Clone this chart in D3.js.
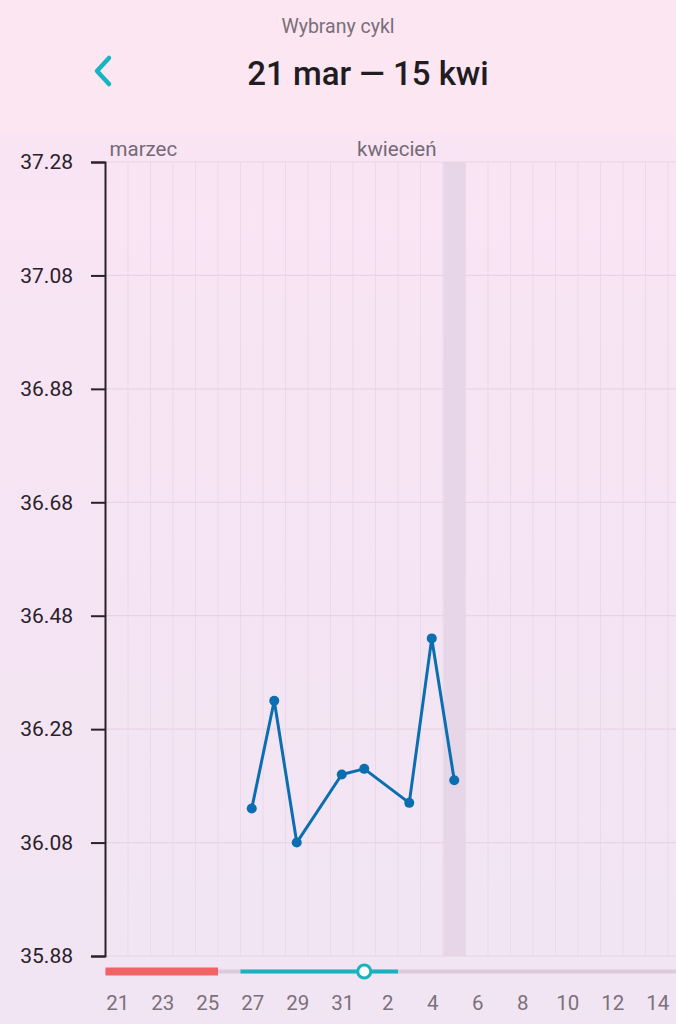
<!DOCTYPE html>
<html>
<head>
<meta charset="utf-8">
<script src="https://cdn.jsdelivr.net/npm/d3@7"></script>
<style>
  body { margin: 0; background: #f4e4f3; font-family: Roboto, "Noto Sans", sans-serif; }
  svg { display: block; }
</style>
</head>
<body>
<svg id="chart" width="676" height="1024"></svg>
<script>
// ---------- dane ----------
var cycleDays = ["03-21","03-22","03-23","03-24","03-25","03-26","03-27","03-28","03-29","03-30","03-31",
                 "04-01","04-02","04-03","04-04","04-05","04-06","04-07","04-08","04-09","04-10",
                 "04-11","04-12","04-13","04-14","04-15"];
var dayLabels = ["21","22","23","24","25","26","27","28","29","30","31",
                 "1","2","3","4","5","6","7","8","9","10","11","12","13","14","15"];
var tempDays = ["03-27","03-28","03-29","03-31","04-01","04-03","04-04","04-05"];
var tempValues = [36.14, 36.33, 36.08, 36.20, 36.21, 36.15, 36.44, 36.19];
var yTicks = [35.88, 36.08, 36.28, 36.48, 36.68, 36.88, 37.08, 37.28];
var months = [{ day: "03-21", name: "marzec" }, { day: "04-01", name: "kwiecień" }];
var periodDays = ["03-21","03-22","03-23","03-24","03-25"];
var fertileDays = ["03-27","03-28","03-29","03-30","03-31","04-01","04-02"];
var ovulationDay = "04-01";
var todayDay = "04-05";

var svg = d3.select("#chart");
var W = 676, H = 1024;

// tło
var defs = svg.append("defs");
var grad = defs.append("linearGradient").attr("id", "bg").attr("x1", 0).attr("y1", 0).attr("x2", 0).attr("y2", 1);
grad.append("stop").attr("offset", "0%").attr("stop-color", "#f9e4f4");
grad.append("stop").attr("offset", "100%").attr("stop-color", "#f1e5f3");
svg.append("rect").attr("x", 0).attr("y", 133).attr("width", W).attr("height", H - 133).attr("fill", "url(#bg)");
svg.append("rect").attr("x", 0).attr("y", 0).attr("width", W).attr("height", 133).attr("fill", "#fbe6f2");

// nagłówek
svg.append("text").attr("x", 338).attr("y", 33).attr("text-anchor", "middle")
  .attr("font-size", 19.5).attr("fill", "#7a6e79").text("Wybrany cykl");
svg.append("text").attr("x", 368).attr("y", 85).attr("text-anchor", "middle")
  .attr("font-size", 33).attr("font-weight", 500).attr("fill", "#221b22").text("21 mar — 15 kwi");
svg.append("path").attr("d", "M109,58 L97,71 L109,84")
  .attr("fill", "none").attr("stroke", "#17b5c2").attr("stroke-width", 4.5)
  .attr("stroke-linecap", "round").attr("stroke-linejoin", "round");

// skale
var x = d3.scaleBand().domain(cycleDays).range([105.5, 105.5 + 22.5 * cycleDays.length]).padding(0);
var y = d3.scaleLinear().domain([35.88, 37.28]).range([956, 162]);

// dzisiaj
svg.append("rect")
  .attr("x", x(todayDay) + 0.5).attr("y", y(37.28))
  .attr("width", x.bandwidth() - 1).attr("height", y(35.88) - y(37.28))
  .attr("fill", "#e6d6e7");

// siatka pionowa
svg.append("g").selectAll("line").data(cycleDays).join("line")
  .attr("x1", function(d) { return x(d) + x.bandwidth(); })
  .attr("x2", function(d) { return x(d) + x.bandwidth(); })
  .attr("y1", y(37.28)).attr("y2", y(35.88))
  .attr("stroke", "#ead9ea").attr("stroke-width", 1);

// siatka pozioma
svg.append("g").selectAll("line").data(yTicks).join("line")
  .attr("x1", 105).attr("x2", W)
  .attr("y1", function(d) { return y(d); }).attr("y2", function(d) { return y(d); })
  .attr("stroke", "#e8d4e6").attr("stroke-width", 1.2);

// oś Y
var yAxis = svg.append("g").attr("transform", "translate(105,0)")
  .call(d3.axisLeft(y).tickValues(yTicks).tickSize(14).tickPadding(18).tickFormat(d3.format(".2f")));
yAxis.select(".domain").attr("stroke", "#2a2129").attr("stroke-width", 2);
yAxis.selectAll(".tick line").attr("stroke", "#2a2129").attr("stroke-width", 2);
yAxis.selectAll(".tick text").attr("font-size", 21).attr("fill", "#2a2129")
  .attr("font-family", "Roboto, sans-serif");

// miesiące
svg.append("g").selectAll("text").data(months).join("text")
  .attr("x", function(d) { return x(d.day) + 4; }).attr("y", 156)
  .attr("font-size", 20.5).attr("fill", "#756a74")
  .text(function(d) { return d.name; });

// pasek cyklu
var trackY = 971.5;
svg.append("line").attr("x1", 105).attr("x2", W).attr("y1", trackY).attr("y2", trackY)
  .attr("stroke", "#dccbdc").attr("stroke-width", 4);
svg.append("line")
  .attr("x1", x(periodDays[0])).attr("x2", x(periodDays[periodDays.length - 1]) + x.bandwidth())
  .attr("y1", trackY).attr("y2", trackY)
  .attr("stroke", "#f06466").attr("stroke-width", 8);
svg.append("line")
  .attr("x1", x(fertileDays[0])).attr("x2", x(fertileDays[fertileDays.length - 1]) + x.bandwidth())
  .attr("y1", trackY).attr("y2", trackY)
  .attr("stroke", "#19b3bf").attr("stroke-width", 4);
svg.append("circle")
  .attr("cx", x(ovulationDay) + x.bandwidth() / 2).attr("cy", trackY).attr("r", 6.5)
  .attr("fill", "#ffffff").attr("stroke", "#19b3bf").attr("stroke-width", 3);

// etykiety dni
svg.append("g").selectAll("text")
  .data(cycleDays.filter(function(d, i) { return i % 2 === 0; }))
  .join("text")
  .attr("x", function(d) { return x(d) + x.bandwidth() / 2 + 1; })
  .attr("y", 1010).attr("text-anchor", "middle")
  .attr("font-size", 20.5).attr("fill", "#7c707b")
  .text(function(d) { return dayLabels[cycleDays.indexOf(d)]; });

// temperatura
var points = tempDays.map(function(d, i) { return { day: d, v: tempValues[i] }; });
var line = d3.line()
  .x(function(d) { return x(d.day) + x.bandwidth() / 2; })
  .y(function(d) { return y(d.v); });
svg.append("path").datum(points).attr("d", line)
  .attr("fill", "none").attr("stroke", "#0a6eb0").attr("stroke-width", 3)
  .attr("stroke-linejoin", "round");
svg.append("g").selectAll("circle").data(points).join("circle")
  .attr("cx", function(d) { return x(d.day) + x.bandwidth() / 2; })
  .attr("cy", function(d) { return y(d.v); })
  .attr("r", 5).attr("fill", "#0a6eb0");
</script>
</body>
</html>
